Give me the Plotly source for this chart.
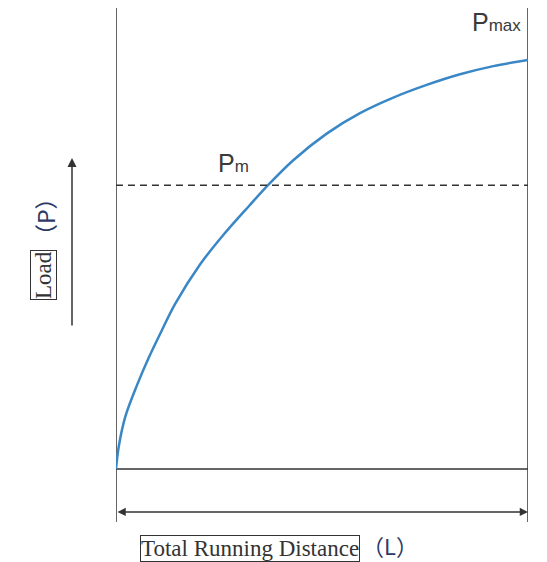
import plotly.graph_objects as go

# curva carga vs distancia (0-100 normalizado)
distancia = [0, 0.66, 2.26, 5.10, 7.94, 11.17, 14.32, 20.39, 26.04, 32.28, 36.89,
             43.03, 51.14, 59.22, 67.31, 75.41, 83.50, 91.58, 100]
carga = [0, 5.45, 12.79, 20.5, 27.2, 34.0, 40.3, 50.0, 57.2, 64.3, 69.4,
         75.5, 82.0, 87.0, 90.8, 93.9, 96.5, 98.5, 100]

p_m = 69.4
p_max = 100
l_max = 100
flecha_y = -10.5

color_linea = '#333333'
color_curva = '#3a87c6'

fig = go.Figure()

fig.add_trace(go.Scatter(
    x=distancia, y=carga, mode='lines',
    line=dict(color=color_curva, width=2.5, shape='spline', smoothing=0.9),
    hoverinfo='skip', showlegend=False
))

fig.add_trace(go.Scatter(
    x=[0, l_max], y=[p_m, p_m], mode='lines',
    line=dict(color=color_linea, width=1.5, dash='7px,5px'),
    hoverinfo='skip', showlegend=False
))

formas = [
    dict(type='line', xref='x', yref='paper', x0=0, x1=0, y0=0, y1=1),
    dict(type='line', xref='x', yref='paper', x0=l_max, x1=l_max, y0=0, y1=1),
    dict(type='line', xref='x', yref='y', x0=0, x1=l_max, y0=0, y1=0),
]
for f in formas:
    f['line'] = dict(color=color_linea, width=1.5)
    f['layer'] = 'below'

sans = 'Liberation Sans, Arial'
serif = 'Liberation Serif, Times New Roman'
cjk = 'Noto Sans CJK SC'

# posiciones en pixeles del area de dibujo (412 x 514)
def px(x):
    return (x - 116) / 412

def py(y):
    return (522 - y) / 514

anotaciones = [
    dict(x=28.4, y=74.8, xref='x', yref='y', text='P<span style="font-size:17px">m</span>',
         showarrow=False, xanchor='center', yanchor='middle',
         font=dict(family=sans, size=25, color='#3a3a3a')),
    dict(x=px(496), y=py(22), xref='paper', yref='paper', text='P<span style="font-size:17px">max</span>',
         showarrow=False, xanchor='center', yanchor='middle',
         font=dict(family=sans, size=25, color='#3a3a3a')),
    # flecha doble horizontal
    dict(x=l_max, y=flecha_y, ax=0, ay=flecha_y, xref='x', yref='y', axref='x', ayref='y',
         text='', showarrow=True, arrowhead=2, arrowside='end+start', arrowsize=1.1,
         arrowwidth=1.5, arrowcolor=color_linea),
    # flecha vertical
    dict(x=px(72), y=py(158), xref='paper', yref='paper', ax=0, ay=169,
         text='', showarrow=True, arrowhead=2, arrowsize=1.2, arrowwidth=1.5, arrowcolor=color_linea),
    # etiqueta eje y
    dict(x=px(44), y=py(275), xref='paper', yref='paper', text='Load', textangle=-90,
         xanchor='center', yanchor='middle', showarrow=False,
         font=dict(family=serif, size=23, color='#333'),
         bordercolor='#333', borderwidth=1, borderpad=0),
    dict(x=px(45), y=py(217), xref='paper', yref='paper', text='（P）', textangle=-90,
         xanchor='center', yanchor='middle', showarrow=False,
         font=dict(family=cjk, size=23, color='#2d3a66')),
    # etiqueta eje x
    dict(x=px(360), y=py(548), xref='paper', yref='paper', text='Total Running Distance',
         xanchor='right', yanchor='middle', showarrow=False,
         font=dict(family=serif, size=23, color='#333'),
         bordercolor='#333', borderwidth=1, borderpad=0),
    dict(x=px(360), y=py(545), xref='paper', yref='paper', text='（L）',
         xanchor='left', yanchor='middle', showarrow=False,
         font=dict(family=cjk, size=22, color='#2d3a66')),
]

# la pagina agrega 8px de margen en el body
fig.update_layout(
    width=531, height=554,
    margin=dict(l=108, r=11, t=0, b=40),
    plot_bgcolor='white', paper_bgcolor='white',
    xaxis=dict(range=[0, l_max], visible=False, fixedrange=True),
    yaxis=dict(range=[-12.96, 112.71], visible=False, fixedrange=True),
    shapes=formas,
    annotations=anotaciones,
    showlegend=False
)

fig.write_html("out.html")
